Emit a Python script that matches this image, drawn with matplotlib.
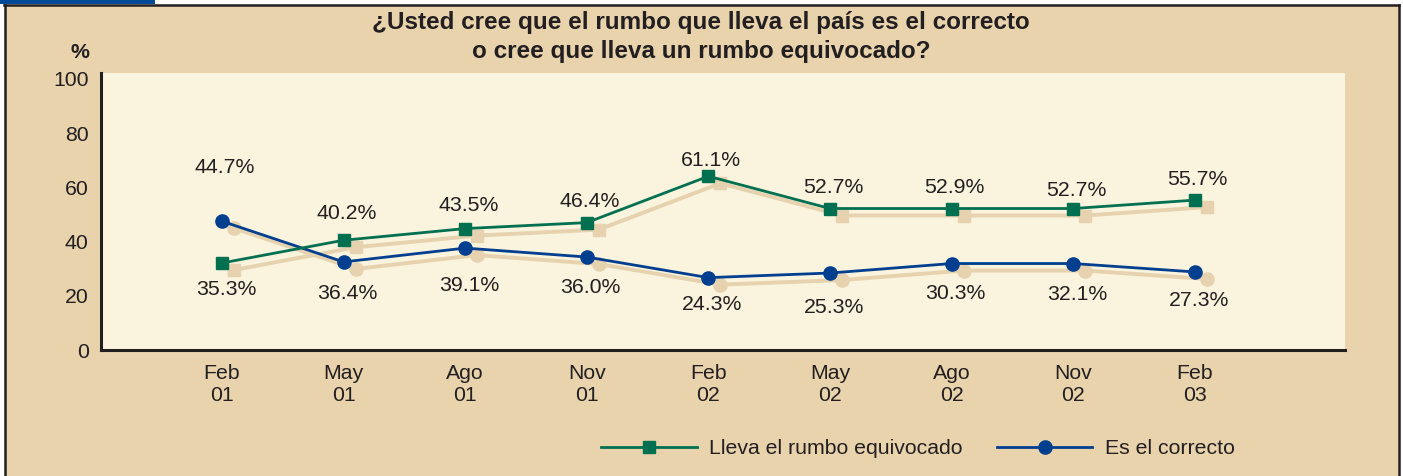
import numpy as np
import matplotlib
matplotlib.use("Agg")
import matplotlib.pyplot as plt
import matplotlib.transforms as mtransforms
from matplotlib.patches import Rectangle
from matplotlib.lines import Line2D

# datos
meses = ["Feb\n01", "May\n01", "Ago\n01", "Nov\n01", "Feb\n02",
         "May\n02", "Ago\n02", "Nov\n02", "Feb\n03"]
equivocado = [32.1, 40.5, 44.8, 47.0, 64.1, 52.2, 52.2, 52.2, 55.3]
correcto = [47.5, 32.5, 37.6, 34.3, 26.7, 28.4, 31.9, 31.9, 28.8]
etiqueta_arriba = [44.7, 40.2, 43.5, 46.4, 61.1, 52.7, 52.9, 52.7, 55.7]
etiqueta_abajo = [35.3, 36.4, 39.1, 36.0, 24.3, 25.3, 30.3, 32.1, 27.3]
yticks = [0, 20, 40, 60, 80, 100]

titulo = "¿Usted cree que el rumbo que lleva el país es el correcto\no cree que lleva un rumbo equivocado?"
nombre_eq = "Lleva el rumbo equivocado"
nombre_co = "Es el correcto"

# colores
VERDE = "#007050"
AZUL = "#003f8f"
SOMBRA = "#e6d2ae"
CREMA = "#faf3dd"
FONDO = "#e8d3ad"
OSCURO = "#231f20"

plt.rcParams['font.family'] = ['Liberation Sans', 'DejaVu Sans']
FS = 15.3

fig = plt.figure(figsize=(14.03, 4.76), dpi=100)
W, H = 1403, 476

# marco del grafico
fig.patches.append(Rectangle((5 / W, 0), (1399 - 5) / W, 1 - 5 / H,
                             transform=fig.transFigure, facecolor=FONDO,
                             edgecolor='none', zorder=-5))
fig.patches.append(Rectangle((0, 1 - 4 / H), 155 / W, 4 / H,
                             transform=fig.transFigure, facecolor="#004a97",
                             edgecolor='none', zorder=-4))
for xs, ys in [([4, 1399], [5, 5]), ([5, 5], [476, 5]), ([1399, 1399], [476, 5])]:
    fig.lines.append(Line2D([v / W for v in xs], [1 - v / H for v in ys],
                            transform=fig.transFigure, color=OSCURO, lw=1.8,
                            zorder=-3))

ax = fig.add_axes([101 / W, 1 - 350 / H, (1345 - 101) / W, (350 - 73) / H])
ax.set_zorder(2)
ax.set_facecolor(CREMA)

x = np.arange(len(meses))
sombra = mtransforms.offset_copy(ax.transData, fig=fig, x=12, y=-7, units='dots')

lw = 2.0
ax.plot(x, equivocado, '-s', color=SOMBRA, lw=lw + 0.8, ms=9, mec=SOMBRA,
        transform=sombra, zorder=2)
ax.plot(x, correcto, '-o', color=SOMBRA, lw=lw + 0.8, ms=9.5, mec=SOMBRA,
        transform=sombra, zorder=2)
ax.plot(x, correcto, '-o', color=AZUL, lw=lw, ms=9.5, mec=AZUL, zorder=3,
        label=nombre_co)
ax.plot(x, equivocado, '-s', color=VERDE, lw=lw, ms=9, mec=VERDE, zorder=4,
        label=nombre_eq)

# etiquetas de valores (desfase vertical en pixeles)
desfase_arriba = [54, 27, 23, 21, 16, 21, 21, 18, 21]
desfase_abajo = [27, 32, 37, 30, 27, 34, 30, 31, 29]
for i in range(len(meses)):
    alto = max(equivocado[i], correcto[i])
    bajo = min(equivocado[i], correcto[i])
    ax.annotate(f"{etiqueta_arriba[i]:.1f}%", (x[i], alto),
                xytext=(3, desfase_arriba[i]), textcoords='offset pixels',
                ha='center', va='center', fontsize=FS, color=OSCURO)
    ax.annotate(f"{etiqueta_abajo[i]:.1f}%", (x[i], bajo),
                xytext=(4, -desfase_abajo[i]), textcoords='offset pixels',
                ha='center', va='center', fontsize=FS, color=OSCURO)

ax.set_xlim(-0.995, 9.235)
ax.set_ylim(0, 102.2)
ax.set_yticks(yticks)
ax.set_xticks(x)
ax.set_xticklabels(meses, linespacing=1.2)
ax.tick_params(axis='both', length=0, labelsize=FS, colors=OSCURO)
ax.tick_params(axis='y', pad=9)
ax.tick_params(axis='x', pad=10)
for s in ['top', 'right']:
    ax.spines[s].set_visible(False)
for s in ['left', 'bottom']:
    ax.spines[s].set_color(OSCURO)
    ax.spines[s].set_linewidth(2.2)

fig.text(80 / W, 1 - 53 / H, "%", ha='center', va='center', fontsize=FS,
         fontweight='bold', color=OSCURO)
fig.text(701 / W, 1 - 37 / H, titulo, ha='center', va='center', fontsize=17.5,
         fontweight='bold', color=OSCURO, linespacing=1.38)

h, l = ax.get_legend_handles_labels()
fig.legend(h[::-1], l[::-1], loc='center', bbox_to_anchor=(918 / W, 1 - 449 / H),
           ncol=2, frameon=False, fontsize=FS, handlelength=4.5,
           handletextpad=0.6, columnspacing=1.6, labelcolor=OSCURO)

fig.savefig("out.png", dpi=100, facecolor='white')
